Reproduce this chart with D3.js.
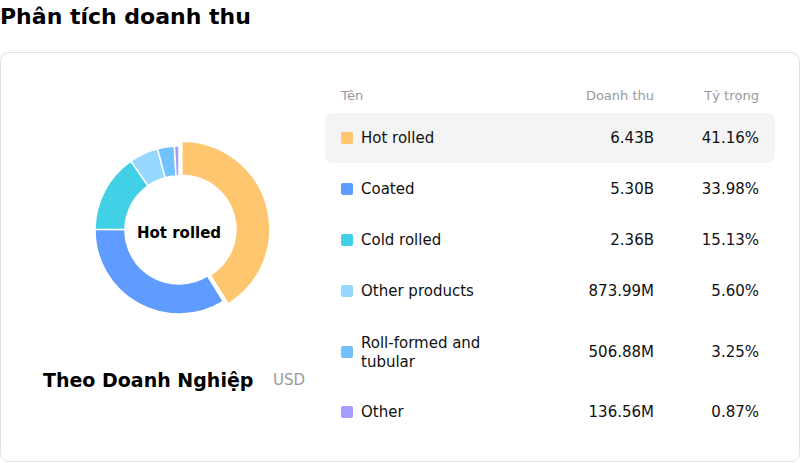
<!DOCTYPE html>
<html><head><meta charset="utf-8">
<script src="https://cdn.jsdelivr.net/npm/d3@7"></script>
<style>body{margin:0;font-family:"DejaVu Sans",sans-serif;background:#fff}</style>
</head><body>
<svg id="c" width="800" height="463"></svg>
<script>
const categories=["Hot rolled","Coated","Cold rolled","Other products","Roll-formed and\ntubular","Other"];
const revenueLabels=["6.43B","5.30B","2.36B","873.99M","506.88M","136.56M"];
const shares=[41.16,33.98,15.13,5.60,3.25,0.87];
const colors=["#ffc670","#609bff","#42d0e6","#96d8ff","#72c2ff","#a29dff"];
const headers=["Tên","Doanh thu","Tỷ trọng"];
const svg=d3.select("#c");
svg.append("text").attr("x",0).attr("y",24).attr("font-size",22).attr("font-weight","bold").text("Phân tích doanh thu");
svg.append("rect").attr("x",0.5).attr("y",52.5).attr("width",799).attr("height",409).attr("rx",8).attr("fill","#fff").attr("stroke","#e2e2ec");
const g=svg.append("g").attr("transform","translate(179,230)");
const pie=d3.pie().sort(null).value(d=>d)(shares);
const arc=d3.arc().innerRadius(54).outerRadius(84);
const arcH=d3.arc().innerRadius(54).outerRadius(88);
g.selectAll("path").data(pie).join("path")
 .attr("d",(d,i)=>i===0?arcH(d):arc(d)).attr("fill",(d,i)=>colors[i])
 .attr("stroke","#fff").attr("stroke-width",1.5)
 .attr("transform",(d,i)=>{if(i)return null;const a=(d.startAngle+d.endAngle)/2;return `translate(${3*Math.sin(a)},${-3*Math.cos(a)})`;});
g.append("text").attr("text-anchor","middle").attr("y",8).attr("font-size",15).attr("font-weight","bold").text(categories[0]);
svg.append("text").attr("x",43).attr("y",387).attr("font-size",19).attr("font-weight","bold").text("Theo Doanh Nghiệp");
svg.append("text").attr("x",273).attr("y",385).attr("font-size",15).attr("fill","#999").text("USD");
const hy=100;
svg.append("text").attr("x",341).attr("y",hy).attr("font-size",13).attr("fill","#999").text(headers[0]);
svg.append("text").attr("x",654).attr("y",hy).attr("text-anchor","end").attr("font-size",13).attr("fill","#999").text(headers[1]);
svg.append("text").attr("x",759).attr("y",hy).attr("text-anchor","end").attr("font-size",13).attr("fill","#999").text(headers[2]);
const rowY=[138,189,240,291,352,412];
svg.append("rect").attr("x",325).attr("y",113).attr("width",450).attr("height",50).attr("rx",8).attr("fill","#f4f4f4");
categories.forEach((c,i)=>{
 const y=rowY[i];
 svg.append("rect").attr("x",341).attr("y",y-6).attr("width",12).attr("height",12).attr("rx",2).attr("fill",colors[i]);
 const lines=c.split("\n");
 const t=svg.append("text").attr("x",361).attr("font-size",15).attr("fill","#111");
 lines.forEach((l,j)=>t.append("tspan").attr("x",361).attr("y",y+5+(j-(lines.length-1)/2)*19).text(l));
 svg.append("text").attr("x",654).attr("y",y+5).attr("text-anchor","end").attr("font-size",15).attr("fill","#111").text(revenueLabels[i]);
 svg.append("text").attr("x",759).attr("y",y+5).attr("text-anchor","end").attr("font-size",15).attr("fill","#111").text(shares[i].toFixed(2)+"%");
});
</script></body></html>
